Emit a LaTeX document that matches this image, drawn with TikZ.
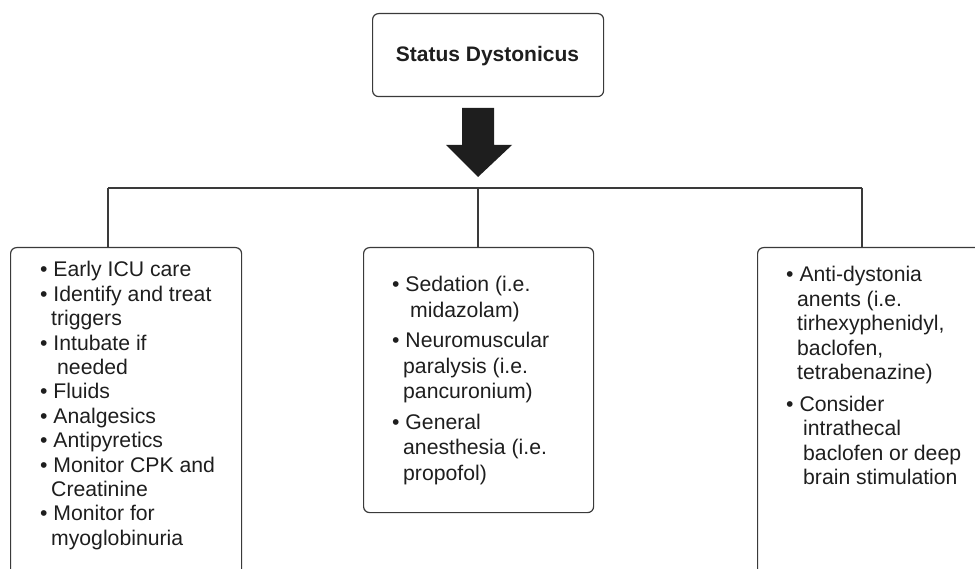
\documentclass[tikz,border=0pt]{standalone}
\usepackage{fontspec}
\setmainfont{Liberation Sans}
\definecolor{linegray}{HTML}{3A3A3A}
\definecolor{ink}{HTML}{1E1E1E}
\begin{document}
\begin{tikzpicture}[x=1pt,y=-1pt,
  frame/.style={draw=linegray, line width=1.2pt, rounded corners=6pt,
    inner sep=0pt, anchor=north west},
  link/.style={draw=linegray, line width=1.2pt},
  body/.style={anchor=base west, inner sep=0pt, text=ink},
]
\useasboundingbox (0,0) rectangle (975,569);
\clip (0,0) rectangle (975,569);

% heading box
\node[frame, minimum width=231, minimum height=83] (top) at (372,13) {};
\node[anchor=base, inner sep=0pt, text=ink,
  font=\bfseries\fontsize{21}{25}\selectfont] (title) at (487.5,62) {Status Dystonicus};

% block arrow
\coordinate (tip) at (478,177);
\fill[ink] (tip) ++(-16,-69) -- ++(32,0) -- ++(0,37) -- ++(18,0)
  -- (tip) -- ++(-32,-32) -- ++(16,0) -- cycle;

% treatment boxes (the outer two run past the page edges)
\node[frame, minimum width=231, minimum height=360] (care) at (10,247) {};
\node[frame, minimum width=230, minimum height=265] (sedate) at (363,247) {};
\node[frame, minimum width=240, minimum height=360] (drugs) at (757,247) {};

% distribution bar
\coordinate (jl) at (108,188);
\coordinate (jm) at (478,188);
\coordinate (jr) at (862,188);
\draw[link] (jl) -- (jr);
\draw[link] (jl) -- (jl |- care.north);
\draw[link] (jm) -- (jm |- sedate.north);
\draw[link] (jr) -- (jr |- drugs.north);

% box contents
\node[body, font=\fontsize{21.2}{24.4}\selectfont] (caretext) at (40,277) {%
\begin{tabular}[t]{@{}l@{}}
\textbullet\ Early ICU care\\
\textbullet\ Identify and treat\\
\hspace*{11pt}triggers\\
\textbullet\ Intubate if\\
\hspace*{17pt}needed\\
\textbullet\ Fluids\\
\textbullet\ Analgesics\\
\textbullet\ Antipyretics\\
\textbullet\ Monitor CPK and\\
\hspace*{11pt}Creatinine\\
\textbullet\ Monitor for\\
\hspace*{11pt}myoglobinuria
\end{tabular}};

\node[body, font=\fontsize{21.2}{25.5}\selectfont] (sedatetext) at (392,292) {%
\begin{tabular}[t]{@{}l@{}}
\textbullet\ Sedation (i.e.\\
\hspace*{18pt}midazolam)\\[5pt]
\textbullet\ Neuromuscular\\
\hspace*{11pt}paralysis (i.e.\\
\hspace*{11pt}pancuronium)\\[5pt]
\textbullet\ General\\
\hspace*{11pt}anesthesia (i.e.\\
\hspace*{11pt}propofol)
\end{tabular}};

\node[body, font=\fontsize{21.2}{24.5}\selectfont] (drugstext) at (786,282) {%
\begin{tabular}[t]{@{}l@{}}
\textbullet\ Anti-dystonia\\
\hspace*{11pt}anents (i.e.\\
\hspace*{11pt}tirhexyphenidyl,\\
\hspace*{11pt}baclofen,\\
\hspace*{11pt}tetrabenazine)\\[7pt]
\textbullet\ Consider\\
\hspace*{17pt}intrathecal\\
\hspace*{17pt}baclofen or deep\\
\hspace*{17pt}brain stimulation
\end{tabular}};
\end{tikzpicture}
\end{document}
